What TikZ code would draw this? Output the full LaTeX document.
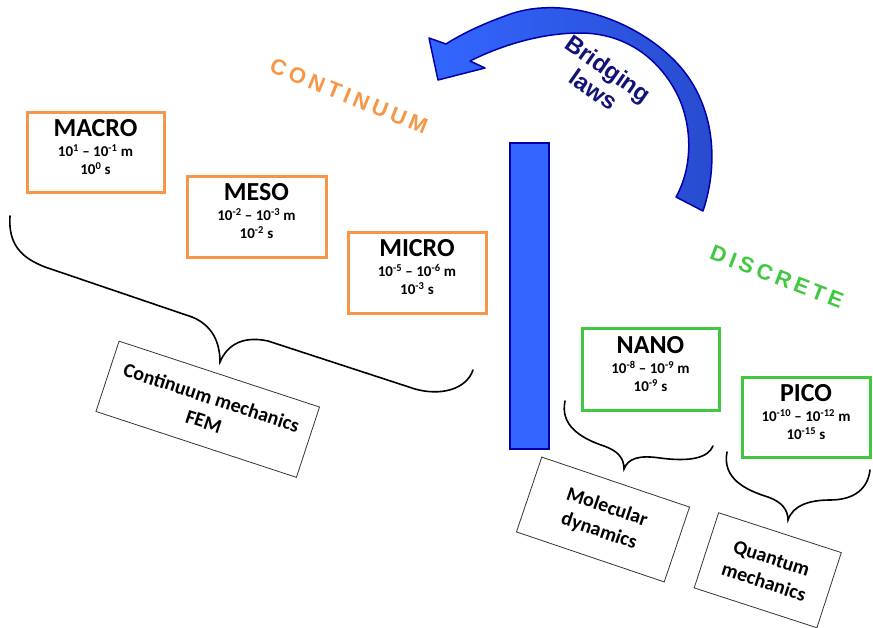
\documentclass[tikz,border=0pt]{standalone}
\usepackage{fontspec}
\setmainfont{Carlito}
\newfontfamily\arialf{Liberation Sans}
\newfontfamily\spacedf[LetterSpace=19]{Liberation Sans}
\usetikzlibrary{calc}
\definecolor{orng}{RGB}{247,150,70}
\definecolor{grn}{RGB}{64,200,64}
\definecolor{bblue}{RGB}{51,102,255}
\definecolor{bdark}{RGB}{40,75,205}
\definecolor{dblue}{RGB}{0,0,170}
\definecolor{navy}{RGB}{20,20,120}
\newcommand\ttl[1]{{\fontsize{26}{28}\selectfont #1}}
\newcommand\sps[1]{\textsuperscript{#1}}
\tikzset{
  scalebox/.style={line width=3pt, inner sep=0pt},
  obox/.style={scalebox, draw=orng},
  gbox/.style={scalebox, draw=grn},
  boxtext/.style={align=center, inner sep=0pt,
    font=\bfseries\fontsize{15}{18}\selectfont},
  rbox/.style={draw=black!80, line width=0.8pt, align=center, inner sep=0pt,
    font=\bfseries\fontsize{20}{25}\selectfont},
  brace/.style={line width=1.6pt, black, line cap=round},
  bigword/.style={font=\spacedf\bfseries\fontsize{22}{22}\selectfont},
}
\begin{document}
\begin{tikzpicture}[x=1pt,y=-1pt]
\useasboundingbox (0,0) rectangle (873,627);

% scale boxes
\node[obox, minimum width=137pt, minimum height=80pt] (macro) at (95.5,152) {};
\node[boxtext] (macrot) at ($(macro.center)+(0,-5)$)
  {\ttl{MACRO}\\[2pt] 10\sps{1} – 10\sps{-1} m\\ 10\sps{0} s};
\node[obox, minimum width=139pt, minimum height=81pt] (meso) at (256.5,216.5) {};
\node[boxtext] (mesot) at ($(meso.center)+(0,-5)$)
  {\ttl{MESO}\\[2pt] 10\sps{-2} – 10\sps{-3} m\\ 10\sps{-2} s};
\node[obox, minimum width=138pt, minimum height=81pt] (micro) at (417,272.5) {};
\node[boxtext] (microt) at ($(micro.center)+(0,-5)$)
  {\ttl{MICRO}\\[2pt] 10\sps{-5} – 10\sps{-6} m\\ 10\sps{-3} s};
\node[gbox, minimum width=137pt, minimum height=82pt] (nano) at (650.5,369) {};
\node[boxtext] (nanot) at ($(nano.center)+(0,-5)$)
  {\ttl{NANO}\\[2pt] 10\sps{-8} – 10\sps{-9} m\\ 10\sps{-9} s};
\node[gbox, minimum width=128pt, minimum height=80pt] (pico) at (806,417) {};
\node[boxtext] (picot) at ($(pico.center)+(0,-5)$)
  {\ttl{PICO}\\[2pt] 10\sps{-10} – 10\sps{-12} m\\ 10\sps{-15} s};

% separator bar
\node[draw=dblue, fill=bblue, line width=1.8pt, minimum width=39pt,
  minimum height=306pt, inner sep=0pt] (bar) at (529.5,296) {};

% method boxes
\node[rbox, rotate=-18.2, minimum width=211pt, minimum height=74pt] (fem)
  at (207.75,409.25) {Continuum mechanics\\FEM};
\node[rbox, rotate=-18.7, minimum width=156pt, minimum height=79pt] (md)
  at (603,519.5) {Molecular\\dynamics};
\node[rbox, rotate=-18, minimum width=129pt, minimum height=79pt] (qm)
  at (767.75,570.25) {Quantum\\mechanics};

% braces
\draw[brace] (10,216) .. controls (8,245) and (22,258) .. (45,267)
  -- (192,317) .. controls (212,325) and (220,342) .. (220,362)
  .. controls (228,343) and (245,336) .. (268,341)
  -- (415,389) .. controls (440,396) and (466,390) .. (473,370);
\draw[brace] (565,401) .. controls (560,425) and (580,438) .. (604,446)
  .. controls (618,451) and (624,458) .. (624,469)
  .. controls (628,458) and (640,455) .. (660,458)
  .. controls (690,462) and (708,458) .. (713,446);
\draw[brace] (727,452) .. controls (722,478) and (745,490) .. (768,497)
  .. controls (782,502) and (788,510) .. (788,520)
  .. controls (793,505) and (810,500) .. (830,500)
  .. controls (855,500) and (868,488) .. (870,470);

% bridging arrow
\path[draw=dblue, line width=1.5pt, line join=round, left color=bblue, right color=bdark]
  (703,211) .. controls (720,160) and (714,100) .. (674,60)
  .. controls (632,18) and (560,-6) .. (505,16)
  .. controls (480,25) and (460,35) .. (446,44)
  -- (429,38) -- (438,80) -- (485,68) -- (470,61)
  .. controls (500,46) and (540,33) .. (580,33)
  .. controls (625,33) and (658,58) .. (676,92)
  .. controls (692,122) and (694,165) .. (676,197) -- cycle;

% labels
\node[text=navy, rotate=-35, align=center,
  font=\arialf\bfseries\fontsize{24}{26}\selectfont]
  (bridge) at (601,79) {Bridging\\laws};
\node[bigword, text=orng, rotate=-22] (cont) at (349,96) {CONTINUUM};
\node[bigword, text=grn, rotate=-21] (disc) at (777,277) {DISCRETE};
\end{tikzpicture}
\end{document}
